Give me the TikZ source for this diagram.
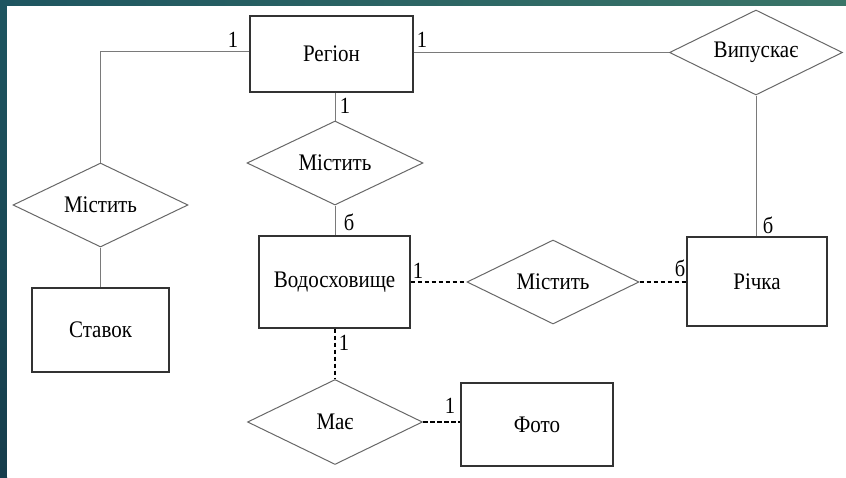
\documentclass[tikz,border=0pt]{standalone}
\usepackage{fontspec}
\setmainfont{Liberation Serif}
\usetikzlibrary{shapes.geometric,calc}
\definecolor{slideA}{HTML}{1E5560}
\definecolor{slideB}{HTML}{3A7568}
\definecolor{slideC}{HTML}{163D4C}
\definecolor{edgegray}{HTML}{7A7A7A}
\definecolor{boxline}{HTML}{333333}
% slightly tall lettering
\newcommand{\tallword}[1]{\scalebox{1}[1.13]{#1}}
\begin{document}
\begin{tikzpicture}[x=1pt,y=-1pt,
  entity/.style={draw=boxline,line width=1.3pt,fill=white,rectangle,inner sep=0pt,
    font=\fontsize{21}{21}\selectfont},
  relation/.style={draw=edgegray!85!black,line width=1pt,fill=white,diamond,aspect=2,inner sep=0pt,
    font=\fontsize{21}{21}\selectfont},
  link/.style={draw=edgegray,line width=1pt},
  dlink/.style={draw=black,line width=1.5pt,dash pattern=on 4.5pt off 2.5pt},
  card/.style={font=\fontsize{20.5}{20.5}\selectfont,inner sep=0pt}]
% slide background
\useasboundingbox (0,0) rectangle (846,477);
\shade[left color=slideA,right color=slideB] (0,0) rectangle (846,7);
\shade[top color=slideA,bottom color=slideC] (0,0) rectangle (7,477);
\fill[white] (7,6) rectangle (846,477);

% entities
\node[entity,minimum width=163pt,minimum height=76pt] (reg) at (331.5,54) {\tallword{Регіон}};
\node[entity,minimum width=151pt,minimum height=92pt] (vod) at (334.5,282) {\tallword{Водосховище}};
\node[entity,minimum width=140pt,minimum height=89pt] (riv) at (757,281.5) {\tallword{Річка}};
\node[entity,minimum width=137pt,minimum height=84pt] (pond) at (100.5,330) {\tallword{Ставок}};
\node[entity,minimum width=152pt,minimum height=83pt] (photo) at (537,424.5) {\tallword{Фото}};

% relationships
\node[relation,minimum width=173pt,minimum height=85pt] (rel) at (756,52.5) {\tallword{Випускає}};
\node[relation,minimum width=176pt,minimum height=84pt] (has1) at (335,163) {\tallword{Містить}};
\node[relation,minimum width=175pt,minimum height=84pt] (has2) at (100.5,205) {\tallword{Містить}};
\node[relation,minimum width=172pt,minimum height=84pt] (has3) at (553,282) {\tallword{Містить}};
\node[relation,minimum width=175pt,minimum height=85pt] (own) at (335,422) {\tallword{Має}};

% solid connectors
\draw[link] (reg.west |- 0,51) -| (has2.north);
\draw[link] (has2.south) -- (pond.north);
\draw[link] (reg.east |- rel.west) -- (rel.west);
\draw[link] (rel.south) -- (rel.south |- riv.north);
\draw[link] (has1.north |- reg.south) -- (has1.north);
\draw[link] (has1.south) -- (has1.south |- vod.north);

% dashed connectors
\draw[dlink] (vod.east |- has3.west) -- (has3.west);
\draw[dlink] (has3.east) -- (riv.west |- has3.east);
\draw[dlink] (own.north |- vod.south) -- (own.north);
\draw[dlink] (own.east) -- (photo.west |- own.east);

% cardinalities
\node[card] (c1) at (233,40) {\tallword{1}};
\node[card] (c2) at (422,40) {\tallword{1}};
\node[card] (c3) at (345,106) {\tallword{1}};
\node[card] (c4) at (349,222) {\tallword{б}};
\node[card] (c5) at (418,271) {\tallword{1}};
\node[card] (c6) at (680,268) {\tallword{б}};
\node[card] (c7) at (768,225) {\tallword{б}};
\node[card] (c8) at (344,343) {\tallword{1}};
\node[card] (c9) at (450,406) {\tallword{1}};
\end{tikzpicture}
\end{document}
